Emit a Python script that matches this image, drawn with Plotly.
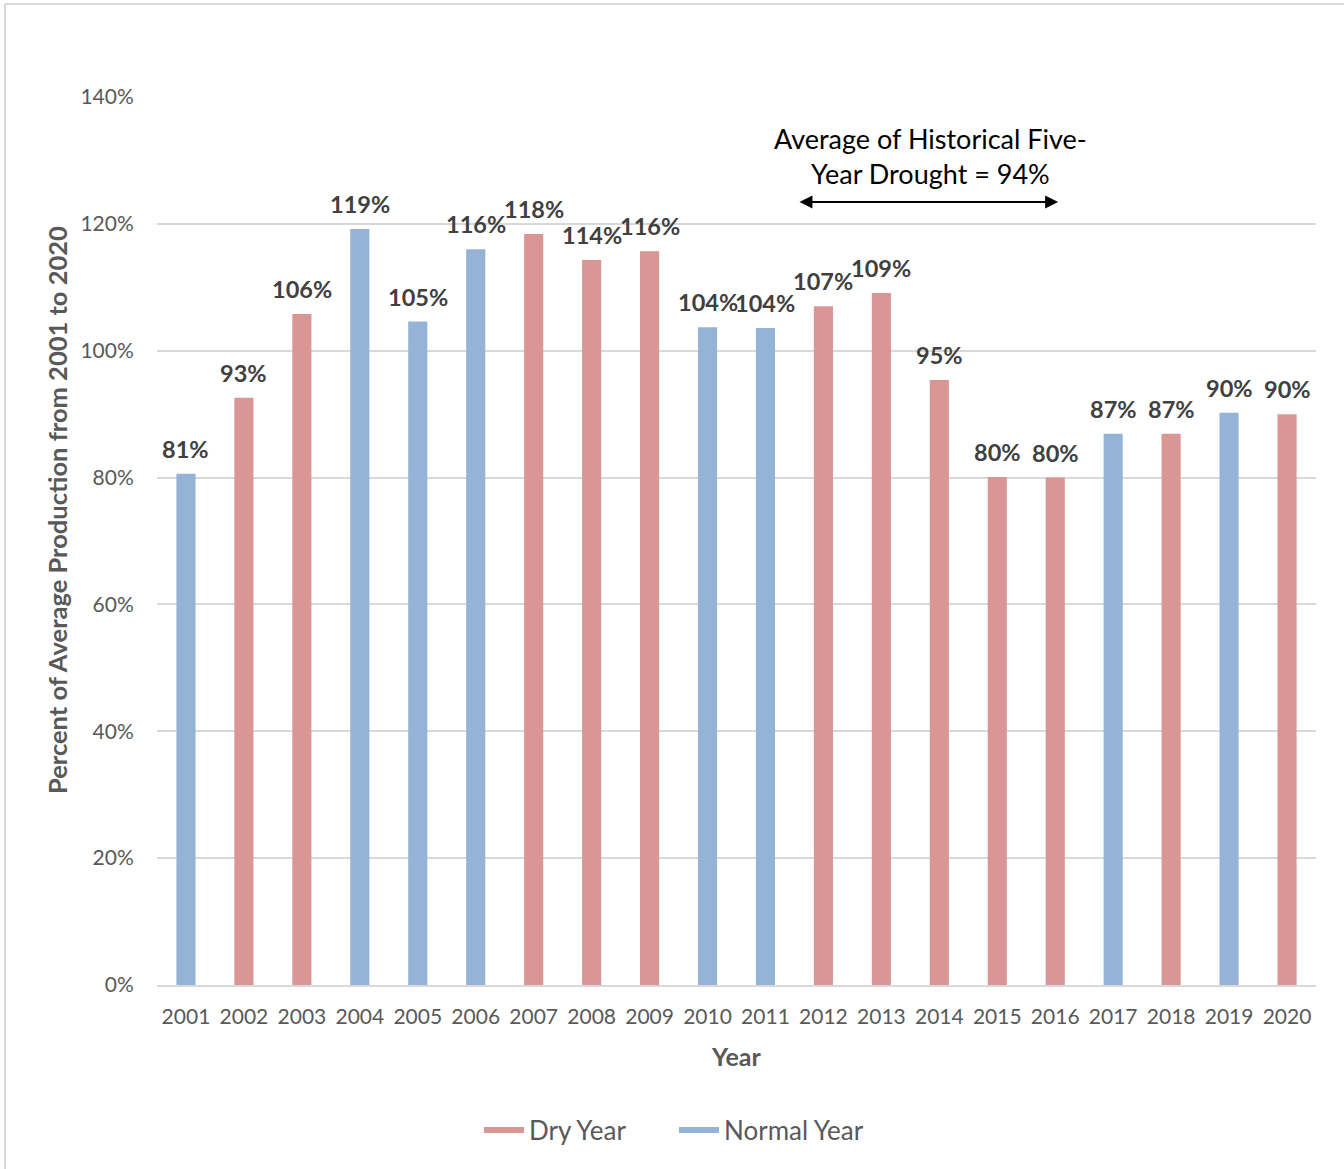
import plotly.graph_objects as go

# ---- data -------------------------------------------------------------
years = [2001, 2002, 2003, 2004, 2005, 2006, 2007, 2008, 2009, 2010,
         2011, 2012, 2013, 2014, 2015, 2016, 2017, 2018, 2019, 2020]
pct_of_average = [0.806, 0.926, 1.058, 1.192, 1.046, 1.160, 1.184, 1.143, 1.157, 1.037,
                  1.036, 1.070, 1.091, 0.954, 0.801, 0.800, 0.869, 0.869, 0.902, 0.900]
year_type = ["Normal", "Dry", "Dry", "Normal", "Normal", "Normal", "Dry", "Dry", "Dry", "Normal",
             "Normal", "Dry", "Dry", "Dry", "Dry", "Dry", "Normal", "Dry", "Normal", "Dry"]
y_ticks = [0, 0.2, 0.4, 0.6, 0.8, 1.0, 1.2, 1.4]
drought_start, drought_end = 2011.56, 2016.05
drought_avg_label = "Average of Historical Five-<br>Year Drought = 94%"

DRY_COLOR = "#D99694"
NORMAL_COLOR = "#95B3D7"
FONT = "Lato"

# ---- layout geometry (pixels) ----------------------------------------
W, H = 1344, 1169
ML, MR, MT, MB = 157, 28, 97, 184
PW, PH = W - ML - MR, H - MT - MB


def px_x(px):
    return (px - ML) / PW


def px_y(py):
    return (H - MB - py) / PH


fig = go.Figure()

for kind, name, color in [("Dry", "Dry Year", DRY_COLOR), ("Normal", "Normal Year", NORMAL_COLOR)]:
    xs = [y for y, t in zip(years, year_type) if t == kind]
    vs = [v for v, t in zip(pct_of_average, year_type) if t == kind]
    fig.add_trace(go.Bar(x=xs, y=vs, name=name, marker_color=color,
                         marker_line_width=0, width=0.33, showlegend=False,
                         hovertemplate="%{x}: %{y:.0%}<extra></extra>"))
    # legend entries drawn as short thick lines
    fig.add_trace(go.Scatter(x=[None], y=[None], mode="lines", name=name,
                             line=dict(color=color, width=6)))

annotations = []
# value labels above each bar
for yr, v in zip(years, pct_of_average):
    annotations.append(dict(x=yr, y=v, xref="x", yref="y", text=f"{v:.0%}",
                            showarrow=False, xanchor="center", yanchor="bottom", yshift=9,
                            font=dict(family=FONT, size=23.5, color="#404040", weight="bold")))

# double-headed arrow spanning the drought years
annotations.append(dict(x=drought_end, y=1.2345, ax=drought_start, ay=1.2345,
                        xref="x", yref="y", axref="x", ayref="y", text="",
                        showarrow=True, arrowhead=2, startarrowhead=2,
                        arrowside="end+start", arrowsize=1.3, startarrowsize=1.3,
                        arrowwidth=2, arrowcolor="black"))
annotations.append(dict(x=2013.84, y=1.307, xref="x", yref="y", text=drought_avg_label,
                        showarrow=False, align="center", xanchor="center", yanchor="middle",
                        font=dict(family=FONT, size=27, color="black")))

# y-axis title
annotations.append(dict(x=px_x(57), y=px_y(510), xref="paper", yref="paper",
                        xanchor="center", yanchor="middle",
                        text="Percent of Average Production from 2001 to 2020",
                        textangle=-90, showarrow=False,
                        font=dict(family=FONT, size=25.5, color="#595959", weight="bold")))
# x-axis title
annotations.append(dict(x=px_x(736), y=px_y(1056), xref="paper", yref="paper",
                        xanchor="center", yanchor="middle",
                        text="Year", showarrow=False,
                        font=dict(family=FONT, size=25, color="#595959", weight="bold")))

# chart-area border (top and left edges)
border = dict(color="#D9D9D9", width=2)
shapes = [
    dict(type="line", xref="paper", yref="paper", x0=px_x(5), x1=px_x(W + 5),
         y0=px_y(4), y1=px_y(4), line=border),
    dict(type="line", xref="paper", yref="paper", x0=px_x(5), x1=px_x(5),
         y0=px_y(4), y1=px_y(H + 5), line=border),
]

fig.update_layout(
    width=W, height=H,
    margin=dict(l=ML, r=MR, t=MT, b=MB, pad=0),
    paper_bgcolor="white", plot_bgcolor="white",
    barmode="overlay",
    font=dict(family=FONT, size=21, color="#595959"),
    xaxis=dict(range=[2000.5, 2020.5], tickmode="array", tickvals=years,
               ticktext=[str(y) for y in years], showgrid=False, zeroline=False,
               showline=True, linecolor="#D9D9D9", linewidth=2,
               ticks="outside", ticklen=12, tickcolor="rgba(0,0,0,0)",
               tickfont=dict(family=FONT, size=21, color="#595959"), fixedrange=True),
    yaxis=dict(range=[0, 1.4], tickmode="array", tickvals=y_ticks, tickformat=".0%",
               showgrid=True, gridcolor="#D9D9D9", gridwidth=1.5, zeroline=False,
               showline=False, ticks="outside", ticklen=18, tickcolor="rgba(0,0,0,0)",
               tickfont=dict(family=FONT, size=21, color="#595959"), fixedrange=True),
    legend=dict(orientation="h", x=px_x(674), y=px_y(1130), xanchor="center",
                yanchor="middle", font=dict(family=FONT, size=26, color="#595959"),
                itemwidth=40, entrywidth=140, bgcolor="rgba(0,0,0,0)"),
    annotations=annotations,
    shapes=shapes,
)

fig.write_html("out.html")
